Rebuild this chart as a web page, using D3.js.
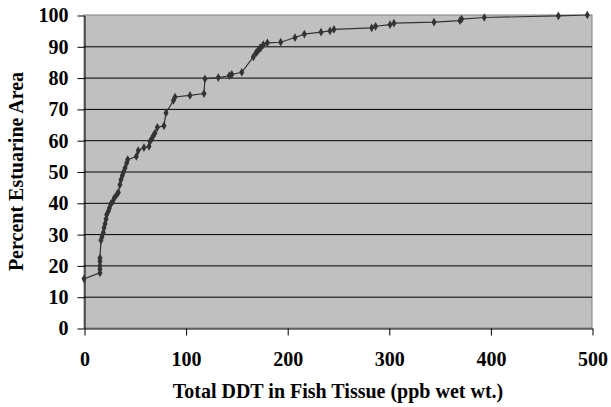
<!DOCTYPE html>
<html><head><meta charset="utf-8">
<script src="https://cdn.jsdelivr.net/npm/d3@7"></script>
<style>body{margin:0;background:#fff}svg text{font-family:"Liberation Serif","Times New Roman",serif;font-weight:bold}</style>
</head><body>
<svg id="c" width="611" height="407"></svg>
<script>
const ddt = [0,15.7,15.7,15.7,15.7,15.7,16.7,17.7,19,19.7,20.7,21.7,22.3,24,25,26.3,28.2,29.8,32.2,33.8,35.4,36.4,37.7,38.7,40.4,42,43,51.5,53.4,59,64,65,66.6,68.2,69.9,72.2,78.7,80.7,88,89.6,104.3,118.1,119,132.2,143,145.5,155.3,166.7,169.3,170,171.6,173.2,174,176.5,180.5,193.6,207.7,216.9,233.3,242.1,246,283.2,287,301.2,305.1,344.5,370,371.7,394,466.9,495.4];
const pct = [15.7,17.6,18.8,19.9,21.3,22.4,28,29.1,30.5,32,33.3,34.8,36.2,37.3,38.3,39.6,40.4,41.5,42.6,43.3,45.8,47.4,48.7,49.7,51.1,52.7,53.8,54.8,56.7,57.6,58,59.6,60.4,61.4,62.3,64.1,64.6,68.7,72.7,73.8,74.3,74.9,79.6,80,80.6,81,81.7,86.6,87.9,88.1,88.7,89.5,89.5,90.5,91.1,91.3,92.8,93.9,94.5,94.9,95.4,95.9,96.4,96.9,97.4,97.7,98.2,98.7,99.2,99.7,100];
const xTicks = [0,100,200,300,400,500];
const yTicks = [0,10,20,30,40,50,60,70,80,90,100];
const xTitle = "Total DDT in Fish Tissue (ppb wet wt.)";
const yTitle = "Percent Estuarine Area";

const svg = d3.select("#c");
const L=84,R=592,T=15,B=328;
const x = d3.scaleLinear().domain([0,500]).range([L,R]);
const y = d3.scaleLinear().domain([0,100]).range([B,T]);

svg.append("rect").attr("x",L).attr("y",T).attr("width",R-L).attr("height",B-T).attr("fill","#c0c0c0").attr("stroke","#808080").attr("stroke-width",1);

svg.append("g").selectAll("line").data(yTicks.filter(d=>d>0&&d<100)).join("line")
  .attr("x1",L).attr("x2",R).attr("y1",d=>y(d)+0.5).attr("y2",d=>y(d)+0.5).attr("stroke","#000").attr("stroke-width",1);

const ya = svg.append("g").attr("transform",`translate(${L+0.5},0.5)`)
  .call(d3.axisLeft(y).tickValues(yTicks).tickSize(7).tickPadding(9).tickSizeOuter(0));
const xa = svg.append("g").attr("transform",`translate(0.5,${B+0.5})`)
  .call(d3.axisBottom(x).tickValues(xTicks).tickSize(7).tickPadding(16).tickSizeOuter(0));
[ya,xa].forEach(a=>{a.select(".domain").attr("stroke","#000");a.selectAll(".tick line").attr("stroke","#000");
  a.selectAll("text").attr("font-size",20).attr("fill","#000").attr("font-family","Liberation Serif").attr("font-weight","bold");});

const pts = ddt.map((d,i)=>[d,pct[i]]);
svg.append("path").datum(pts).attr("fill","none").attr("stroke","#333").attr("stroke-width",1.2)
  .attr("d",d3.line().x(d=>x(d[0])).y(d=>y(d[1])));
svg.append("g").selectAll("path").data(pts).join("path")
  .attr("transform",d=>`translate(${x(d[0])},${y(d[1])})`)
  .attr("d",d3.symbol(d3.symbolDiamond,22)).attr("fill","#333");

svg.append("text").attr("x",(L+R)/2).attr("y",398).attr("text-anchor","middle").attr("font-size",20).text(xTitle);
svg.append("text").attr("transform",`translate(23,${(T+B)/2}) rotate(-90)`).attr("text-anchor","middle").attr("font-size",20).text(yTitle);
</script>
</body></html>
